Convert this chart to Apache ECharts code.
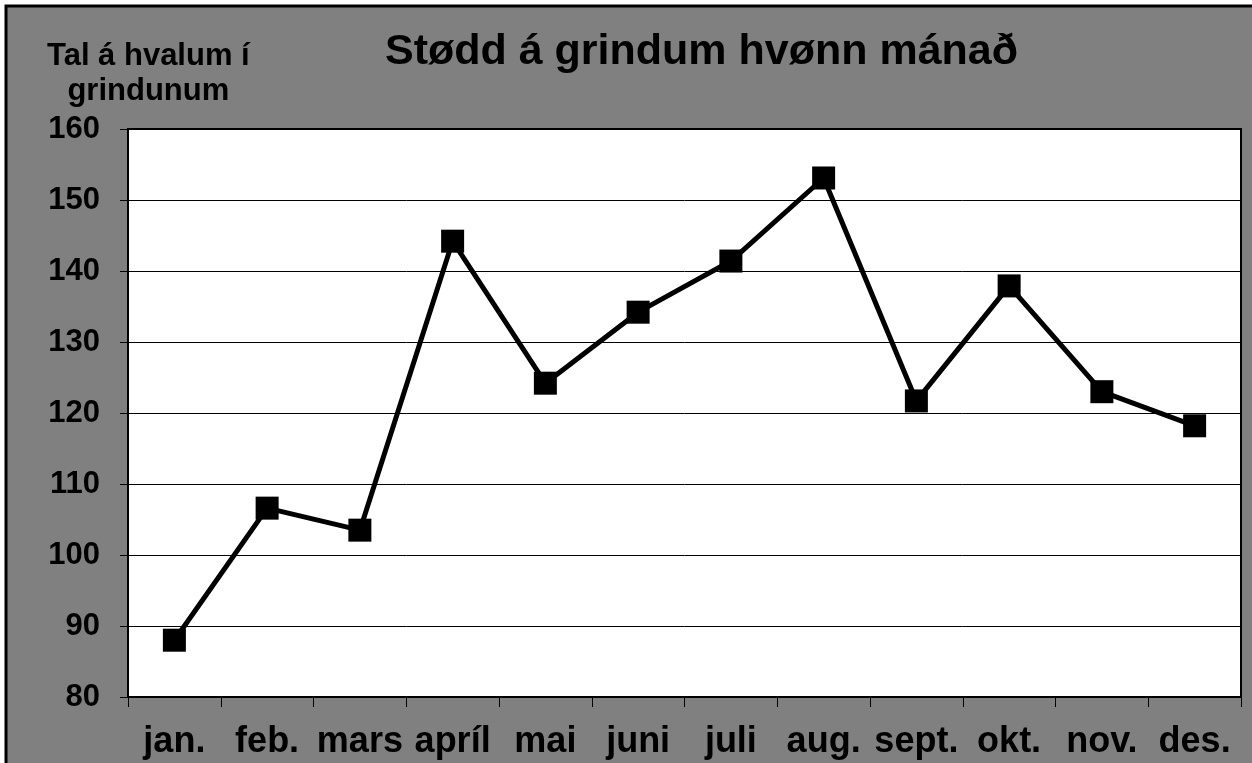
<!DOCTYPE html>
<html>
<head>
<meta charset="utf-8">
<script src="https://cdn.jsdelivr.net/npm/echarts@6/dist/echarts.min.js"></script>
<style>
html,body{margin:0;padding:0;background:#fff;}
#chart{width:1252px;height:763px;}
</style>
</head>
<body>
<div id="chart"></div>
<script>
const months = ['jan.', 'feb.', 'mars', 'apríl', 'mai', 'juni', 'juli', 'aug.', 'sept.', 'okt.', 'nov.', 'des.'];
const whales = [88.0, 106.6, 103.5, 144.2, 124.2, 134.2, 141.4, 153.1, 121.7, 137.9, 123.0, 118.2];
const titleText = 'Stødd á grindum hvønn mánað';
const yName = 'Tal á hvalum í\ngrindunum';
const yMin = 80, yMax = 160, yStep = 10;

const chart = echarts.init(document.getElementById('chart'), null, {renderer: 'canvas'});
const font = '"Liberation Sans", Arial, sans-serif';
chart.setOption({
  backgroundColor: '#ffffff',
  animation: false,
  graphic: [
    {type: 'rect', z: -10, shape: {x: 6, y: 6, width: 1300, height: 800},
     style: {fill: '#808080', stroke: '#000', lineWidth: 3}},
    {type: 'text', left: 47, top: 39, z: 10,
     style: {text: yName, x: 0, y: 0, textAlign: 'center', fill: '#000',
             font: 'bold 31px ' + font, lineHeight: 35}}
  ],
  title: {
    text: titleText, left: 385, top: 31, padding: 0,
    textStyle: {fontFamily: font, fontWeight: 'bold', fontSize: 43, color: '#000'}
  },
  grid: {left: 128, top: 129, right: 11, bottom: 66, show: true,
         backgroundColor: '#fff', borderColor: '#000', borderWidth: 2, containLabel: false},
  xAxis: {
    type: 'category', data: months, boundaryGap: true,
    axisLine: {show: true, lineStyle: {color: '#000', width: 2}},
    axisTick: {show: true, alignWithLabel: false, length: 10, lineStyle: {color: '#000', width: 1}},
    axisLabel: {margin: 27, color: '#000', fontFamily: font, fontWeight: 'bold', fontSize: 36, interval: 0},
    splitLine: {show: false}
  },
  yAxis: {
    type: 'value', min: yMin, max: yMax, interval: yStep,
    axisLine: {show: true, lineStyle: {color: '#000', width: 2}},
    axisTick: {show: true, length: 8, lineStyle: {color: '#000', width: 1}},
    axisLabel: {margin: 28, color: '#000', fontFamily: font, fontWeight: 'bold', fontSize: 31},
    splitLine: {show: true, lineStyle: {color: '#000', width: 1}}
  },
  series: [{
    type: 'line', data: whales,
    symbol: 'rect', symbolSize: 23,
    lineStyle: {color: '#000', width: 5},
    itemStyle: {color: '#000', borderWidth: 0}
  }]
});
</script>
</body>
</html>
